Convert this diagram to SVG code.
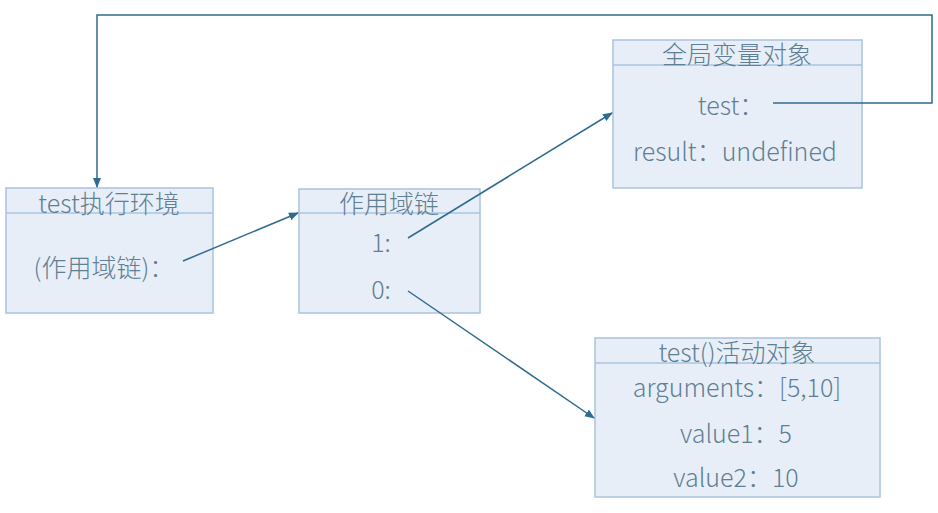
<svg xmlns="http://www.w3.org/2000/svg" width="938" height="513" viewBox="0 0 938 513">
<style>
.box{fill:#e8eef8;stroke:#a9c4e0;stroke-width:1.5}
.hd{stroke:#a9c4e0;stroke-width:1.5}
text{font-family:"Noto Sans CJK SC","Noto Sans",sans-serif;font-size:25px;font-weight:300;fill:#5f7f94;text-anchor:middle}
.c{fill:none;stroke:#2f6b8f;stroke-width:1.5}
</style>
<defs>
<marker id="ah" markerWidth="10" markerHeight="10" refX="9" refY="5" orient="auto" markerUnits="userSpaceOnUse"><path d="M0,1 L10,5 L0,9 Z" fill="#2f6b8f"/></marker>
</defs>
<rect width="938" height="513" fill="#ffffff"/>
<g id="exec">
<rect class="box" x="6" y="188" width="207" height="125"/>
<line class="hd" x1="6" y1="213" x2="213" y2="213"/>
<text x="109" y="213">test执行环境</text>
<text x="104" y="277">(作用域链)：</text>
</g>
<g id="chain">
<rect class="box" x="299" y="189" width="181" height="124"/>
<line class="hd" x1="299" y1="213" x2="480" y2="213"/>
<text x="389" y="213">作用域链</text>
<text x="381" y="252">1:</text>
<text x="381" y="299">0:</text>
</g>
<g id="global">
<rect class="box" x="613" y="40" width="249" height="148"/>
<line class="hd" x1="613" y1="65" x2="862" y2="65"/>
<text x="737" y="64">全局变量对象</text>
<text x="731" y="115">test：</text>
<text x="735" y="161">result：undefined</text>
</g>
<g id="active">
<rect class="box" x="595" y="338" width="285" height="159"/>
<line class="hd" x1="595" y1="363" x2="880" y2="363"/>
<text x="737" y="362">test()活动对象</text>
<text x="737" y="397">arguments：[5,10]</text>
<text x="736" y="443">value1：5</text>
<text x="736" y="487">value2：10</text>
</g>
<g id="connectors">
<path class="c" d="M773,103 H932 V15 H97 V187" marker-end="url(#ah)"/>
<path class="c" d="M183,261 L298,213" marker-end="url(#ah)"/>
<path class="c" d="M408,238 L612,113" marker-end="url(#ah)"/>
<path class="c" d="M408,291 L594,418" marker-end="url(#ah)"/>
</g>
</svg>
